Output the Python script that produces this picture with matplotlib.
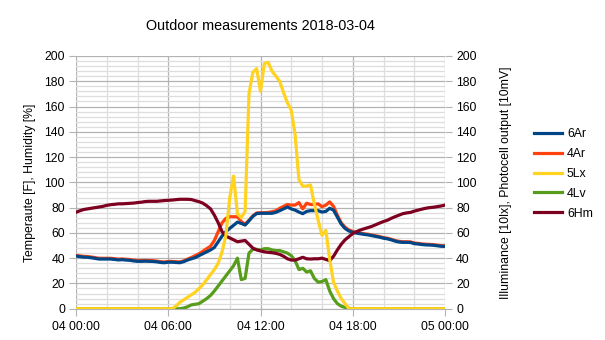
import matplotlib
matplotlib.use("Agg")
import matplotlib.pyplot as plt
from matplotlib.ticker import MultipleLocator

plt.rcParams['font.family'] = ['Liberation Sans', 'DejaVu Sans']

# time in hours since 2018-03-04 00:00, 15-minute steps
hours = [i * 0.25 for i in range(97)]

ar6 = [41.7, 41.2, 40.8, 40.7, 40.3, 39.8, 39.3, 39.3, 39.3, 39.3, 39.0, 38.6,
       38.8, 38.5, 38.3, 37.8, 37.5, 37.5, 37.6, 37.5, 37.4, 37.1, 36.6, 36.4,
       36.8, 36.8, 36.6, 36.4, 37.2, 38.5, 39.5, 40.4, 42.0, 43.5, 45.0, 46.5,
       48.5, 53.0, 57.5, 61.0, 63.6, 66.0, 68.5, 67.5, 66.2, 69.5, 73.0, 75.3,
       75.5, 75.5, 75.5, 75.5, 76.3, 77.6, 79.0, 80.5, 79.0, 78.0, 76.5, 75.2,
       77.0, 77.6, 77.6, 77.6, 76.5, 77.0, 79.5, 78.0, 72.5, 67.0, 63.5, 61.5,
       60.5, 59.8, 59.3, 58.8, 58.4, 57.8, 57.2, 56.6, 55.8, 55.3, 54.5, 53.5,
       52.8, 52.5, 52.5, 52.4, 51.5, 51.2, 50.8, 50.5, 50.4, 50.2, 49.8, 49.4,
       49.3]

ar4 = [42.3, 41.8, 41.4, 41.3, 40.9, 40.4, 39.9, 39.9, 39.9, 39.9, 39.6, 39.2,
       39.4, 39.1, 38.9, 38.4, 38.1, 38.1, 38.2, 38.1, 38.0, 37.7, 37.2, 37.0,
       37.4, 37.4, 37.2, 37.0, 37.8, 39.2, 40.5, 42.0, 43.5, 45.5, 47.5, 49.5,
       54.0, 61.0, 68.0, 71.5, 72.8, 72.8, 72.8, 69.0, 66.8, 70.0, 73.5, 75.8,
       76.0, 76.0, 76.2, 76.8, 77.5, 79.5, 81.0, 82.5, 82.0, 82.0, 84.0, 79.0,
       83.5, 82.5, 82.5, 83.0, 80.7, 82.0, 84.5, 81.0, 74.0, 68.0, 64.5, 62.3,
       61.2, 60.3, 59.8, 59.3, 58.9, 58.3, 57.7, 57.1, 56.3, 55.8, 55.0, 54.0,
       53.3, 53.0, 53.0, 52.9, 52.0, 51.7, 51.3, 51.0, 50.9, 50.7, 50.3, 49.9,
       49.8]

lx5 = [0, 0, 0, 0, 0, 0, 0, 0, 0, 0, 0, 0,
       0, 0, 0, 0, 0, 0, 0, 0, 0, 0, 0, 0,
       0, 0, 2, 5, 7, 9, 11, 13, 16, 19, 23, 27,
       31, 36, 45, 58, 88, 105, 75, 72, 77, 170, 187, 190,
       172, 194, 195, 188, 184, 180, 171, 163, 157, 138, 102, 97,
       97, 98, 83, 70, 58, 62, 39, 21, 14, 8, 4, 0,
       0, 0, 0, 0, 0, 0, 0, 0, 0, 0, 0, 0,
       0, 0, 0, 0, 0, 0, 0, 0, 0, 0, 0, 0,
       0]

lv4 = [0, 0, 0, 0, 0, 0, 0, 0, 0, 0, 0, 0,
       0, 0, 0, 0, 0, 0, 0, 0, 0, 0, 0, 0,
       0, 0, 0, 0, 0.5, 1.5, 3, 3.5, 4, 6, 8, 10.5,
       14, 18, 22, 26, 30, 34, 40, 23, 24, 44, 47, 47,
       46.5, 47.5, 47.5, 46.5, 46, 46, 45, 44, 42, 38, 31, 32,
       29, 30, 24, 21, 21.5, 23, 14, 8, 4, 2, 1, 0.3,
       0, 0, 0, 0, 0, 0, 0, 0, 0, 0, 0, 0,
       0, 0, 0, 0, 0, 0, 0, 0, 0, 0, 0, 0,
       0]

hm6 = [76.3, 77.5, 78.5, 79.0, 79.5, 80.0, 80.5, 81.0, 81.8, 82.3, 82.6, 83.0,
       83.0, 83.2, 83.4, 83.6, 84.0, 84.3, 84.8, 85.0, 85.0, 85.0, 85.3, 85.6,
       85.8, 86.0, 86.3, 86.6, 86.6, 86.6, 86.4, 85.5, 84.7, 83.5, 81.5, 79.0,
       74.0, 68.0, 61.0, 57.5, 56.0, 54.5, 53.0, 53.5, 54.0, 51.0, 48.0, 46.5,
       45.7, 45.0, 44.6, 44.3, 43.8, 43.0, 41.5, 39.5, 38.5, 38.5, 39.5, 40.7,
       39.5, 39.3, 39.5, 39.5, 40.0, 39.0, 38.0, 41.5, 46.5, 51.0, 54.5, 57.0,
       59.5, 61.0, 62.3, 63.3, 64.2, 65.2, 66.5, 67.8, 69.0, 70.0, 71.5, 72.8,
       74.0, 75.2, 75.8, 76.2, 77.2, 78.0, 78.8, 79.5, 80.0, 80.3, 80.8, 81.3,
       82.0]

series_names = ["6Ar", "4Ar", "5Lx", "4Lv", "6Hm"]
series_colors = ["#004586", "#ff420e", "#ffd320", "#579d1c", "#7e0021"]
series_z = [3.3, 3.2, 3.5, 3.0, 3.4]

xtick_pos = [0, 6, 12, 18, 24]
xtick_labels = ["04 00:00", "04 06:00", "04 12:00", "04 18:00", "05 00:00"]

FS = 8.8

fig = plt.figure(figsize=(6.05, 3.4), dpi=100)
ax = fig.add_axes([76/605, 1-308.7/340, (445-76)/605, (308.7-56)/340])

data = [ar6, ar4, lx5, lv4, hm6]
lines = []
for i in range(5):
    ln, = ax.plot(hours, data[i], color=series_colors[i], lw=2.3,
                  solid_joinstyle='round', label=series_names[i], zorder=series_z[i])
    lines.append(ln)

ax.set_xlim(0, 24)
ax.set_ylim(0, 200)
ax.set_xticks(xtick_pos)
ax.set_xticklabels(xtick_labels)
ax.xaxis.set_minor_locator(MultipleLocator(2))
ax.yaxis.set_major_locator(MultipleLocator(20))
ax.yaxis.set_minor_locator(MultipleLocator(4))

ax.grid(which='major', color='#b3b3b3', lw=0.9, zorder=1)
ax.grid(which='minor', color='#dddddd', lw=0.9, zorder=0.5)
ax.set_axisbelow(True)

for s in ['top', 'right', 'left']:
    ax.spines[s].set_visible(False)
ax.spines['bottom'].set_color('#b3b3b3')

ax.tick_params(which='major', length=5, color='#b3b3b3', labelsize=FS, pad=3)
ax.tick_params(which='minor', length=0)
ax.tick_params(axis='x', pad=4)

ax2 = ax.twinx()
ax2.set_ylim(0, 200)
ax2.yaxis.set_major_locator(MultipleLocator(20))
for s in ['top', 'right', 'left', 'bottom']:
    ax2.spines[s].set_visible(False)
ax2.tick_params(which='major', length=5, color='#b3b3b3', labelsize=FS, pad=3)
ax2.tick_params(which='minor', length=0)

ax.set_ylabel("Temperaute [F], Humidity [%]", fontsize=FS, labelpad=6)
ax2.set_ylabel("Illuminance [10lx], Photocell output [10mV]", fontsize=FS, labelpad=17)

fig.suptitle("Outdoor measurements 2018-03-04", x=260.5/605, y=1-26.5/340,
             va='center', fontsize=10.4)

fig.legend(lines, series_names, loc='upper left',
           bbox_to_anchor=(529/605, 1-123/340), frameon=False,
           fontsize=FS, handlelength=2.3, handletextpad=0.4,
           labelspacing=0.65, borderaxespad=0)

fig.savefig("out.png", dpi=100)
